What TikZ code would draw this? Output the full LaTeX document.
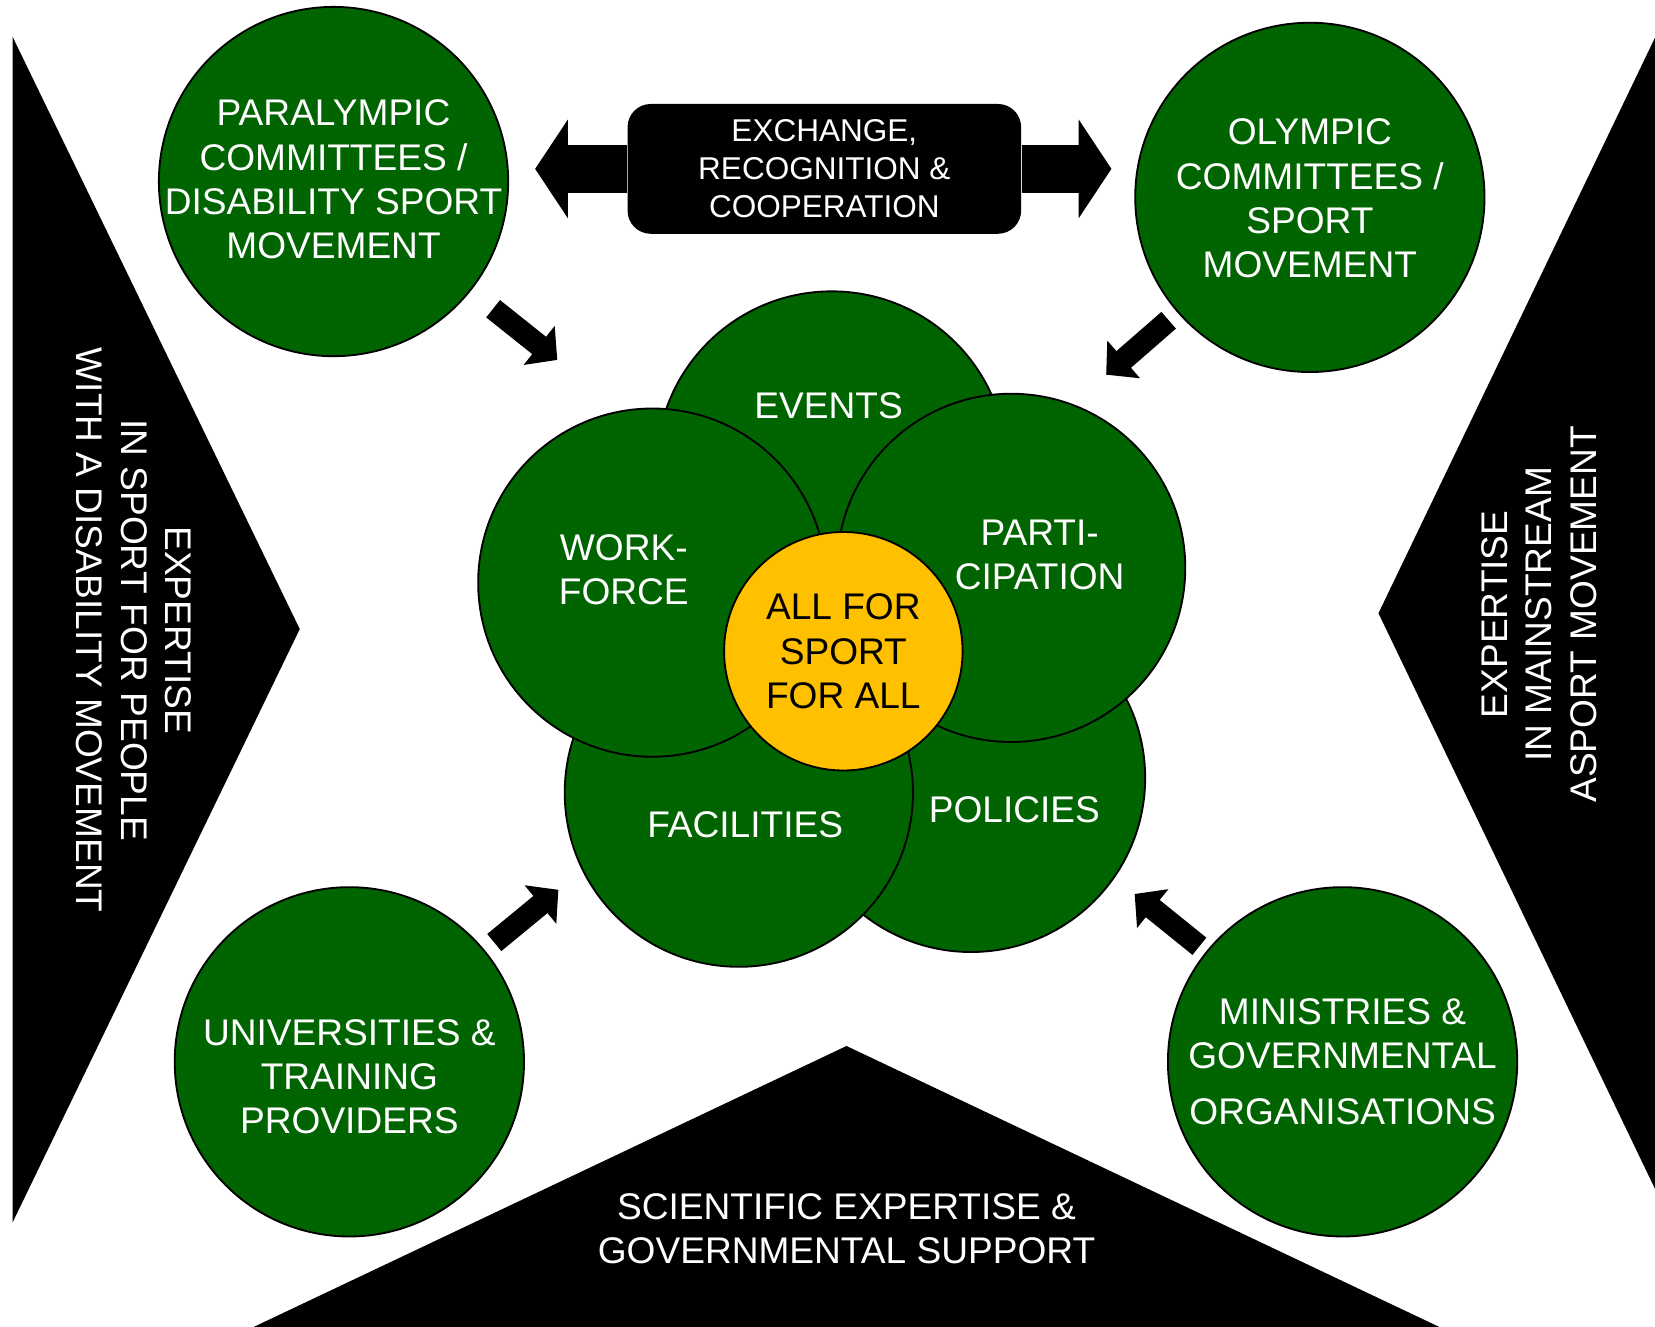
\documentclass[tikz,border=0pt]{standalone}
\usepackage{fontspec}
\setmainfont{Liberation Sans}
\usepackage{xcolor}
\usetikzlibrary{arrows.meta}
\definecolor{sportgreen}{RGB}{0,100,0}
\definecolor{sportgold}{RGB}{255,192,0}
\newcommand{\circlefont}{\fontsize{20}{23.9}\selectfont}
\newcommand{\boxfont}{\fontsize{17}{20.5}\selectfont}

\begin{document}
\begin{tikzpicture}[
  x=0.02cm,
  y=-0.02cm,
  gdisc/.style={
    circle,
    draw,
    line width=1pt,
    fill=sportgreen,
    inner sep=0pt
  },
  petal/.style={gdisc, minimum size=6.6cm},
  bigdisc/.style={gdisc, minimum size=6.62cm},
  hub/.style={
    circle,
    draw,
    line width=1pt,
    fill=sportgold,
    minimum size=4.52cm,
    align=center,
    font=\circlefont
  },
  lbl/.style={text=white, align=center, font=\circlefont, inner sep=0pt},
  banner/.style={
    rectangle,
    rounded corners=0.44cm,
    fill=black,
    text=white,
    align=center,
    minimum width=7.46cm,
    minimum height=2.46cm,
    font=\boxfont
  },
  backing/.style={fill=black},
  feed/.style={line width=0.42cm, -{Triangle[length=0.44cm, width=0.92cm]}},
  link/.style={line width=0.92cm, -{Triangle[length=0.62cm, width=1.84cm]}}
]

\useasboundingbox (0,0) rectangle (1568,1257);
\clip (0,0) rectangle (1568,1257);

\fill[backing] (12,35) -- (284,596) -- (12,1158) -- cycle;
\fill[backing] (1306,581) -- (1600,-31) -- (1600,1193) -- cycle;
\fill[backing] (802,991) -- (1665,1400) -- (-61,1400) -- cycle;

\node[lbl, rotate=-90] (leftexp) at (127,597)
{EXPERTISE\\IN SPORT FOR PEOPLE\\WITH A DISABILITY MOVEMENT};
\node[lbl, rotate=90] (rightexp) at (1458,582)
{EXPERTISE\\IN MAINSTREAM\\ASPORT MOVEMENT};
\node[lbl] (science) at (802,1164)
{SCIENTIFIC EXPERTISE \&\\GOVERNMENTAL SUPPORT};

\node[bigdisc] (para) at (316,172) {};
\node[bigdisc] (olymp) at (1241,187) {};
\node[bigdisc] (univ) at (331,1006) {};
\node[bigdisc] (minis) at (1272,1006) {};

\node[lbl] (para-t) at ([shift={(0,-2)}]para)
{PARALYMPIC\\COMMITTEES /\\DISABILITY SPORT\\MOVEMENT};
\node[lbl] (olymp-t) at ([shift={(0,1)}]olymp)
{OLYMPIC\\COMMITTEES /\\SPORT\\MOVEMENT};
\node[lbl] (univ-t) at ([shift={(0,14)}]univ)
{UNIVERSITIES \&\\TRAINING\\PROVIDERS};
\node[lbl] (minis-t) at (minis)
{MINISTRIES \&\\GOVERNMENTAL\\[0.22cm]ORGANISATIONS};

\node[petal, minimum size=6.64cm] (events) at (788,442) {};
\node[petal] (policy) at (920,737) {};
\node[petal] (facil) at (700,751) {};
\node[petal] (wforce) at (618,552) {};
\node[petal] (partic) at (958,538) {};
\node[hub] (hub) at (799,617) {ALL FOR\\SPORT\\FOR ALL};

\node[lbl] (events-t) at ([shift={(-3,-58)}]events) {EVENTS};
\node[lbl] (wforce-t) at ([shift={(-27,-12)}]wforce) {WORK-\\FORCE};
\node[lbl] (partic-t) at ([shift={(27,-12)}]partic) {PARTI-\\CIPATION};
\node[lbl] (facil-t) at ([shift={(6,30)}]facil) {FACILITIES};
\node[lbl] (policy-t) at ([shift={(41,30)}]policy) {POLICIES};

\node[banner] (xchg) at (781,160)
{EXCHANGE,\\RECOGNITION \&\\COOPERATION};

\coordinate (xleft) at (507,160);
\coordinate (xright) at (1053,160);
\coordinate (para-tip) at (528,341);
\coordinate (olymp-tip) at (1048,355);
\coordinate (univ-tip) at (529,843);
\coordinate (minis-tip) at (1075,847);

\draw[link] (xchg.west) -- (xleft);
\draw[link] (xchg.east) -- (xright);
\draw[feed, shorten <=0.54cm] (para) -- (para-tip);
\draw[feed, shorten <=0.22cm] (olymp) -- (olymp-tip);
\draw[feed, shorten <=0.23cm] (univ) -- (univ-tip);
\draw[feed, shorten <=0.16cm] (minis) -- (minis-tip);

\end{tikzpicture}
\end{document}
